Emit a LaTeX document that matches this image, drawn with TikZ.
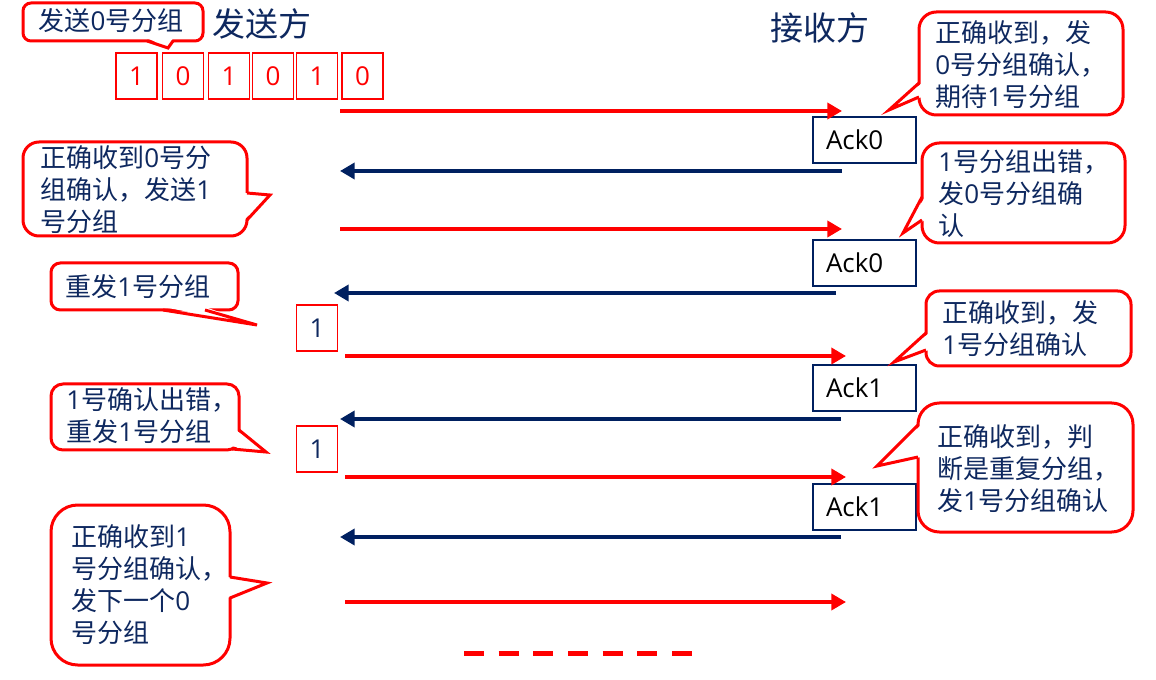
\documentclass[tikz,border=0pt]{standalone}
\usepackage{fontspec}
\newfontfamily\cn{Noto Sans CJK SC}
\newfontfamily\lat{Open Sans}
\newcommand\dg[1]{{\lat #1}}
\usetikzlibrary{arrows.meta}
\definecolor{navy}{RGB}{0,32,96}
\definecolor{txtblue}{RGB}{14,40,95}
\newdimen\px \px=0.75pt
\begin{document}
\begin{tikzpicture}[x=0.75pt, y=-0.75pt,
  txt/.style={font=\cn\fontsize{19.5pt}{24pt}\selectfont, text=txtblue, align=left, inner sep=0pt},
  cbox/.style={draw=red, line width=2.25pt, fill=white, rounded corners=#1, inner sep=0pt},
  tailline/.style={draw=red, line width=2.25pt, line join=miter, miter limit=8},
  bit/.style={draw=red, line width=0.8pt, minimum width=41*\px, minimum height=46*\px, inner sep=0pt, font=\lat\fontsize{19.5pt}{24pt}\selectfont},
  ackbox/.style={draw=navy, line width=0.9pt, minimum width=103*\px, minimum height=46*\px, inner sep=0pt, text width=77*\px, align=left, font=\lat\fontsize{19.5pt}{24pt}\selectfont, text=black},
  title/.style={font=\cn\fontsize{24.75pt}{30pt}\selectfont, text=txtblue, inner sep=0pt},
  sendarr/.style={red, line width=3.4pt, -{Triangle[length=11pt,width=12pt]}},
  ackarr/.style={navy, line width=3.4pt, -{Triangle[length=11pt,width=12pt]}},
]
\useasboundingbox (0,0) rectangle (1156,680);

% titles
\node[title] (snd) at (262,24) {发送方};
\node[title] (rcv) at (820,28) {接收方};

% bit boxes
\node[bit, text=red] (b1) at (136.5,76) {1};
\node[bit, text=red] (b2) at (183,76) {0};
\node[bit, text=red] (b3) at (229,76) {1};
\node[bit, text=red] (b4) at (273,76) {0};
\node[bit, text=red] (b5) at (317,76) {1};
\node[bit, text=red] (b6) at (362.5,76) {0};

% resend boxes
\node[bit, text=txtblue] (rs1) at (317,328) {1};
\node[bit, text=txtblue] (rs2) at (317,449) {1};

% ack boxes
\node[ackbox] (a1) at (864.5,140) {Ack0};
\node[ackbox] (a2) at (864.5,263) {Ack0};
\node[ackbox] (a3) at (864.5,388) {Ack1};
\node[ackbox] (a4) at (864.5,507) {Ack1};

% arrows
\coordinate (s1) at (340,111); \coordinate (r1) at (842,111);
\coordinate (r2) at (842,171); \coordinate (s2) at (340,171);
\coordinate (s3) at (340,229); \coordinate (r3) at (842,229);
\coordinate (r4) at (836,293); \coordinate (s4) at (334,293);
\coordinate (s5) at (345,356); \coordinate (r5) at (846,356);
\coordinate (r6) at (841,419); \coordinate (s6) at (340,419);
\coordinate (s7) at (345,477); \coordinate (r7) at (846,477);
\coordinate (r8) at (841,537); \coordinate (s8) at (340,537);
\coordinate (s9) at (345,602); \coordinate (r9) at (846,602);
\draw[sendarr] (s1) -- (r1);
\draw[ackarr] (r2) -- (s2);
\draw[sendarr] (s3) -- (r3);
\draw[ackarr] (r4) -- (s4);
\draw[sendarr] (s5) -- (r5);
\draw[ackarr] (r6) -- (s6);
\draw[sendarr] (s7) -- (r7);
\draw[ackarr] (r8) -- (s8);
\draw[sendarr] (s9) -- (r9);
\coordinate (d1) at (464,653); \coordinate (d2) at (692,653);
\draw[red, line width=3.75pt, dash pattern=on 15pt off 11pt] (d1) -- (d2);

% callout 0 (top left)
\node[cbox=6pt, minimum width=180*\px, minimum height=38*\px] (c0) at (113,22) {};
\fill[white] (147,38) -- (168,48) -- (173,38) -- cycle;
\draw[tailline] (147,41) -- (168,48) -- (173,41);
\node[txt] (c0t) at (111,21) {发送\dg{0}号分组};

% callout 1
\node[cbox=13pt, minimum width=204*\px, minimum height=103*\px] (c1) at (1021,63.5) {};
\fill[white] (922,83) -- (889,110) -- (922,97) -- cycle;
\draw[tailline] (919,83) -- (889,110) -- (919,97);
\node[txt, anchor=west] (c1t) at (935,65) {正确收到，发\\\dg{0}号分组确认，\\期待\dg{1}号分组};

% callout 2
\node[cbox=13pt, minimum width=203*\px, minimum height=100*\px] (c2) at (1023.5,193) {};
\fill[white] (925,197) -- (903,233) -- (925,220) -- cycle;
\draw[tailline] (922,197) -- (903,233) -- (922,220);
\node[txt, anchor=west] (c2t) at (938,194) {\dg{1}号分组出错，\\发\dg{0}号分组确\\认};

% callout 3
\node[cbox=12pt, minimum width=224*\px, minimum height=94*\px] (c3) at (135,189) {};
\fill[white] (244,193) -- (270,195) -- (244,220) -- cycle;
\draw[tailline] (247,193) -- (270,195) -- (247,220);
\node[txt, anchor=west] (c3t) at (40,190) {正确收到\dg{0}号分\\组确认，发送\dg{1}\\号分组};

% callout 4
\node[cbox=7pt, minimum width=187*\px, minimum height=47*\px] (c4) at (144.5,286.5) {};
\fill[white] (163,307) -- (257,325) -- (205,307) -- cycle;
\draw[tailline] (163,310) -- (257,325) -- (205,310);
\node[txt, anchor=west] (c4t) at (65,287) {重发\dg{1}号分组};

% callout 5
\node[cbox=10pt, minimum width=205*\px, minimum height=75*\px] (c5) at (1028.5,328.5) {};
\fill[white] (929,333) -- (894,362) -- (929,350) -- cycle;
\draw[tailline] (926,333) -- (894,362) -- (926,350);
\node[txt, anchor=west] (c5t) at (942,329) {正确收到，发\\\dg{1}号分组确认};

% callout 6
\node[cbox=16pt, minimum width=215*\px, minimum height=129*\px] (c6) at (1025.5,467.5) {};
\fill[white] (921,425) -- (877,466) -- (921,457) -- cycle;
\draw[tailline] (918,425) -- (877,466) -- (918,457);
\node[txt, anchor=west] (c6t) at (937,469) {正确收到，判\\断是重复分组，\\发\dg{1}号分组确认};

% callout 7
\node[cbox=9pt, minimum width=188*\px, minimum height=66*\px] (c7) at (145,417) {};
\fill[white] (236,430) -- (266,452) -- (230,446) -- cycle;
\draw[tailline] (239,430) -- (266,452) -- (232,449);
\node[txt, anchor=west] (c7t) at (66,416) {\dg{1}号确认出错，\\重发\dg{1}号分组};

% callout 8
\node[cbox=20pt, minimum width=179*\px, minimum height=160*\px] (c8) at (140.5,585) {};
\fill[white] (227,577) -- (267,583) -- (227,598) -- cycle;
\draw[tailline] (230,577) -- (267,583) -- (230,598);
\node[txt, anchor=west] (c8t) at (71,585) {正确收到\dg{1}\\号分组确认，\\发下一个\dg{0}\\号分组};
\end{tikzpicture}
\end{document}
